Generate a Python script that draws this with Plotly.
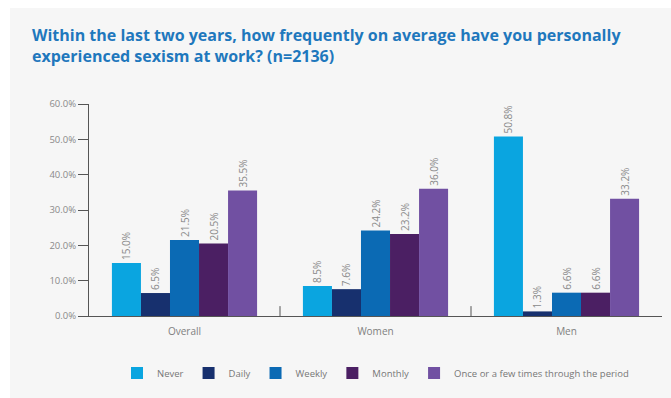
import plotly.graph_objects as go

categories = ["Overall", "Women", "Men"]
series_names = ["Never", "Daily", "Weekly", "Monthly", "Once or a few times through the period"]
never = [15.0, 8.5, 50.8]
daily = [6.5, 7.6, 1.3]
weekly = [21.5, 24.2, 6.6]
monthly = [20.5, 23.2, 6.6]
once = [35.5, 36.0, 33.2]
series_values = [never, daily, weekly, monthly, once]
colors = ["#0aa5e0", "#17306e", "#0b6ab4", "#4b1f63", "#7150a2"]
y_ticks = [0, 10, 20, 30, 40, 50, 60]
y_tick_text = [f"{v:.1f}%" for v in y_ticks]

W, H = 671, 398
L, R, T, B = 89, 9, 104, 82
pw, ph = W - L - R, H - T - B

fig = go.Figure()
for name, vals, col in zip(series_names, series_values, colors):
    fig.add_trace(go.Bar(
        x=categories, y=vals, name=name, marker=dict(color=col, line=dict(width=0)),
        texttemplate="%{y:.1f}%", textposition="outside", textangle=-90,
        textfont=dict(color="#8a8a8a", size=10, family="Open Sans"),
        cliponaxis=False,
    ))

fig.update_layout(
    width=W, height=H,
    margin=dict(l=L, r=R, t=T, b=B, autoexpand=False),
    paper_bgcolor="white", plot_bgcolor="rgba(0,0,0,0)",
    barmode="group", bargap=0.24, bargroupgap=0,
    font=dict(family="Open Sans", color="#777777", size=10),
    showlegend=True,
    legend=dict(orientation="h", x=117 / W, xanchor="left", xref="container",
                y=1 - 373 / H, yanchor="middle", yref="container",
                font=dict(size=9.5, color="#777777", family="Open Sans"),
                itemwidth=30, bgcolor="rgba(0,0,0,0)"),
    xaxis=dict(showline=True, linecolor="#555555", linewidth=1, ticks="",
               showgrid=False, tickfont=dict(size=10, color="#808080"), range=[-0.5, 2.5],
               ticklabelstandoff=6),
    yaxis=dict(range=[0, 60], tickvals=y_ticks, ticktext=y_tick_text,
               ticks="outside", ticklen=10, tickcolor="#555555", showline=True,
               linecolor="#555555", linewidth=1, showgrid=False, zeroline=False,
               tickfont=dict(size=9.5, color="#8a8a8a")),
    shapes=[
        dict(type="rect", xref="paper", yref="paper", layer="below",
             x0=(10 - L) / pw, x1=1 + R / pw, y0=-B / ph, y1=1 + (T - 8) / ph,
             fillcolor="#f6f6f6", line=dict(width=0)),
        dict(type="line", xref="x", yref="y", x0=0.5, x1=0.5, y0=0, y1=2.8, line=dict(color="#555555", width=1)),
        dict(type="line", xref="x", yref="y", x0=1.5, x1=1.5, y0=0, y1=2.8, line=dict(color="#555555", width=1)),
        dict(type="line", xref="paper", yref="y", x0=0, x1=0, y0=0, y1=-2.3, line=dict(color="#555555", width=1)),
    ],
    annotations=[dict(
        xref="paper", yref="paper", x=(30 - L) / pw, y=1 + (T - 22) / ph,
        xanchor="left", yanchor="top", align="left", showarrow=False,
        text="<b>Within the last two years, how frequently on average have you personally<br>experienced sexism at work? (n=2136)</b>",
        font=dict(family="Open Sans", size=16, color="#1f78bd"),
    )],
)
fig.write_html("out.html")
